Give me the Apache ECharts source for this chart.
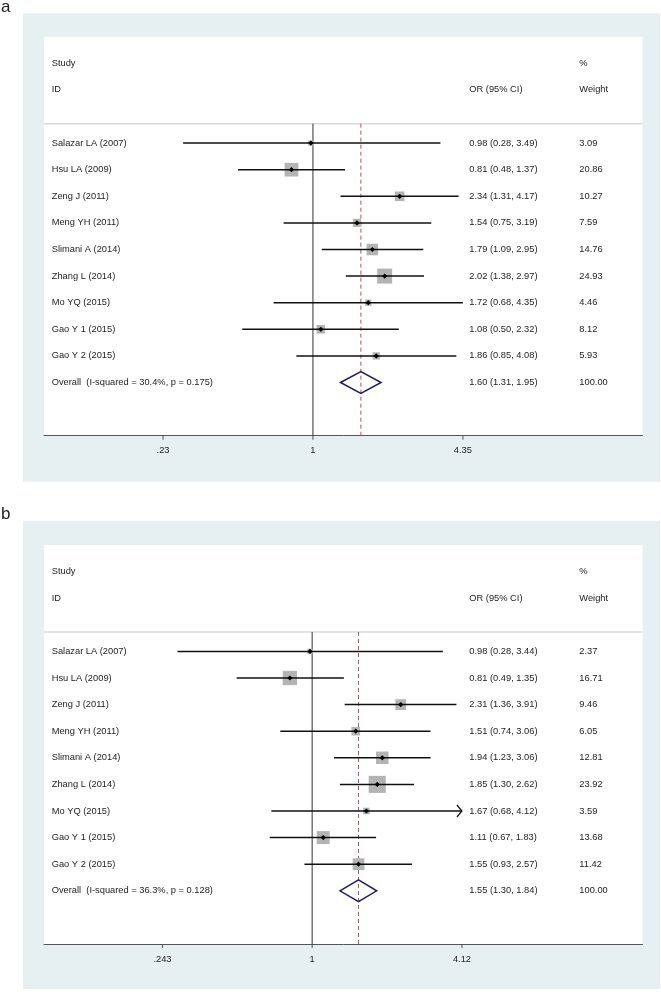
<!DOCTYPE html>
<html>
<head>
<meta charset="utf-8">
<script src="https://cdn.jsdelivr.net/npm/echarts@6/dist/echarts.min.js"></script>
<style>
  html, body { margin: 0; padding: 0; background: #fff; }
  #chart { width: 661px; height: 992px; }
</style>
</head>
<body>
<div id="chart"></div>
<script>
const studies = ['Salazar LA (2007)', 'Hsu LA (2009)', 'Zeng J (2011)', 'Meng YH (2011)', 'Slimani A (2014)',
  'Zhang L (2014)', 'Mo YQ (2015)', 'Gao Y 1 (2015)', 'Gao Y 2 (2015)']

// panel a
const orA = [0.98, 0.81, 2.34, 1.54, 1.79, 2.02, 1.72, 1.08, 1.86]
const lowA = [0.28, 0.48, 1.31, 0.75, 1.09, 1.38, 0.68, 0.50, 0.85]
const highA = [3.49, 1.37, 4.17, 3.19, 2.95, 2.97, 4.35, 2.32, 4.08]
const weightA = [3.09, 20.86, 10.27, 7.59, 14.76, 24.93, 4.46, 8.12, 5.93]
const overallA = [1.60, 1.31, 1.95]
const overallTextA = 'Overall  (I-squared = 30.4%, p = 0.175)'
const ticksA = [0.23, 1, 4.35]
const tickLabelsA = ['.23', '1', '4.35']
const arrowsA = []

// panel b
const orB = [0.98, 0.81, 2.31, 1.51, 1.94, 1.85, 1.67, 1.11, 1.55]
const lowB = [0.28, 0.49, 1.36, 0.74, 1.23, 1.30, 0.68, 0.67, 0.93]
const highB = [3.44, 1.35, 3.91, 3.06, 3.06, 2.62, 4.12, 1.83, 2.57]
const weightB = [2.37, 16.71, 9.46, 6.05, 12.81, 23.92, 3.59, 13.68, 11.42]
const overallB = [1.55, 1.30, 1.84]
const overallTextB = 'Overall  (I-squared = 36.3%, p = 0.128)'
const ticksB = [0.243, 1, 4.12]
const tickLabelsB = ['.243', '1', '4.12']
const arrowsB = ['Mo YQ (2015)']

const FONT = '9.3px "Liberation Sans", Arial, sans-serif'
const TEXT = '#222'
const COL_STUDY = 51.7
const COL_OR = 469.3
const COL_W = 579.3
const SEP_ROW = -0.73

const panels = [
  { tag: 'a', frameTop: 13.3, gridTop: 36.7, xmin: 0.0716, xmax: 25.3, k: 3.0,
    or: orA, low: lowA, high: highA, weight: weightA, overall: overallA, overallText: overallTextA,
    ticks: ticksA, tickLabels: tickLabelsA, arrows: arrowsA },
  { tag: 'b', frameTop: 520.7, gridTop: 545, xmin: 0.0793, xmax: 22.7, k: 3.5,
    or: orB, low: lowB, high: highB, weight: weightB, overall: overallB, overallText: overallTextB,
    ticks: ticksB, tickLabels: tickLabelsB, arrows: arrowsB }
]

const fmt = v => v.toFixed(2)

function txt(x, y, text, align) {
  return {
    type: 'text',
    style: { x: x, y: y, text: text, font: FONT, fill: TEXT, align: align || 'left', verticalAlign: 'middle' }
  }
}

const chart = echarts.init(document.getElementById('chart'), null, { renderer: 'canvas' })

const grid = []
const xAxis = []
const yAxis = []
const series = []
const graphic = []

panels.forEach((p, i) => {
  graphic.push({
    type: 'rect', z: -10, silent: true,
    shape: { x: 23, y: p.frameTop, width: 637, height: 468.4 },
    style: { fill: '#e6eff1' }
  })
  graphic.push({
    type: 'rect', z: -9, silent: true,
    shape: { x: 44, y: p.gridTop, width: 598.5, height: 399 },
    style: { fill: '#ffffff' }
  })
  graphic.push({
    type: 'text', z: -8,
    style: { x: 1, y: p.frameTop - 6, text: p.tag, font: '17px "Liberation Sans", Arial, sans-serif',
      fill: TEXT, verticalAlign: 'middle' }
  })

  grid.push({ left: 44, width: 598.5, top: p.gridTop, height: 399, show: false })
  xAxis.push({
    type: 'log', gridIndex: i, min: p.xmin, max: p.xmax,
    axisLine: { show: true, onZero: false, lineStyle: { color: '#555', width: 1 } },
    axisTick: { show: false }, axisLabel: { show: false }, splitLine: { show: false }
  })
  yAxis.push({ type: 'value', gridIndex: i, inverse: true, min: -4, max: 11, show: false })

  // reference lines, header, overall diamond, ticks
  series.push({
    type: 'custom', xAxisIndex: i, yAxisIndex: i, silent: true, clip: false, z: 2,
    data: [[p.overall[0], 9, p.overall[1], p.overall[2]]],
    renderItem(params, api) {
      const est = api.value(0)
      const row = api.value(1)
      const lo = api.coord([api.value(2), row])
      const hi = api.coord([api.value(3), row])
      const mid = api.coord([est, row])
      const top = api.coord([est, row - 0.41])
      const bot = api.coord([est, row + 0.41])
      const cs = params.coordSys
      const sepY = api.coord([1, SEP_ROW])[1]
      const axisY = api.coord([1, 11])[1]
      const nullX = api.coord([1, 0])[0]
      const children = [
        { type: 'line', shape: { x1: cs.x, y1: sepY, x2: cs.x + cs.width, y2: sepY },
          style: { stroke: '#dadada', lineWidth: 1.5 } },
        { type: 'line', shape: { x1: nullX, y1: sepY, x2: nullX, y2: axisY },
          style: { stroke: '#333', lineWidth: 1 } },
        { type: 'line', shape: { x1: mid[0], y1: sepY, x2: mid[0], y2: axisY },
          style: { stroke: '#b0505c', lineWidth: 1, lineDash: [4, 3] } },
        { type: 'polygon', shape: { points: [lo, top, hi, bot] },
          style: { fill: 'none', stroke: '#1c1c6c', lineWidth: 1.5 } },
        txt(COL_STUDY, api.coord([1, -3])[1], 'Study'),
        txt(COL_STUDY, api.coord([1, -2])[1], 'ID'),
        txt(COL_OR, api.coord([1, -2])[1], 'OR (95% CI)'),
        txt(COL_W, api.coord([1, -3])[1], '%'),
        txt(COL_W, api.coord([1, -2])[1], 'Weight'),
        txt(COL_STUDY, mid[1], p.overallText),
        txt(COL_OR, mid[1], fmt(est) + ' (' + fmt(api.value(2)) + ', ' + fmt(api.value(3)) + ')'),
        txt(COL_W, mid[1], '100.00')
      ]
      p.ticks.forEach((t, j) => {
        const x = api.coord([t, 11])[0]
        children.push({ type: 'line', shape: { x1: x, y1: axisY, x2: x, y2: axisY + 4 },
          style: { stroke: '#555', lineWidth: 1 } })
        children.push(txt(x, axisY + 15, p.tickLabels[j], 'center'))
      })
      return { type: 'group', children: children }
    }
  })

  // studies
  series.push({
    type: 'custom', xAxisIndex: i, yAxisIndex: i, silent: true, clip: false, z: 3,
    data: studies.map((s, j) => [p.or[j], j, p.low[j], p.high[j], p.weight[j]]),
    renderItem(params, api) {
      const est = api.value(0)
      const row = api.value(1)
      const c = api.coord([est, row])
      const l = api.coord([api.value(2), row])
      const h = api.coord([api.value(3), row])
      const s = p.k * Math.sqrt(api.value(4))
      const name = studies[params.dataIndex]
      const children = [
        { type: 'rect', shape: { x: c[0] - s / 2, y: c[1] - s / 2, width: s, height: s },
          style: { fill: '#b4b4b4' } },
        { type: 'line', shape: { x1: l[0], y1: l[1], x2: h[0], y2: h[1] },
          style: { stroke: '#111', lineWidth: 1.5 } },
        { type: 'polygon',
          shape: { points: [[c[0] - 2.6, c[1]], [c[0], c[1] - 2.6], [c[0] + 2.6, c[1]], [c[0], c[1] + 2.6]] },
          style: { fill: '#000' } },
        txt(COL_STUDY, c[1], name),
        txt(COL_OR, c[1], fmt(est) + ' (' + fmt(api.value(2)) + ', ' + fmt(api.value(3)) + ')'),
        txt(COL_W, c[1], fmt(api.value(4)))
      ]
      if (p.arrows.indexOf(name) >= 0) {
        children.push({ type: 'polyline',
          shape: { points: [[h[0] - 5, h[1] - 6], [h[0], h[1]], [h[0] - 5, h[1] + 6]] },
          style: { stroke: '#111', lineWidth: 1.2, fill: 'none' } })
      }
      return { type: 'group', children: children }
    }
  })
})

chart.setOption({
  animation: false,
  backgroundColor: '#ffffff',
  graphic: graphic,
  grid: grid,
  xAxis: xAxis,
  yAxis: yAxis,
  series: series
})
</script>
</body>
</html>
